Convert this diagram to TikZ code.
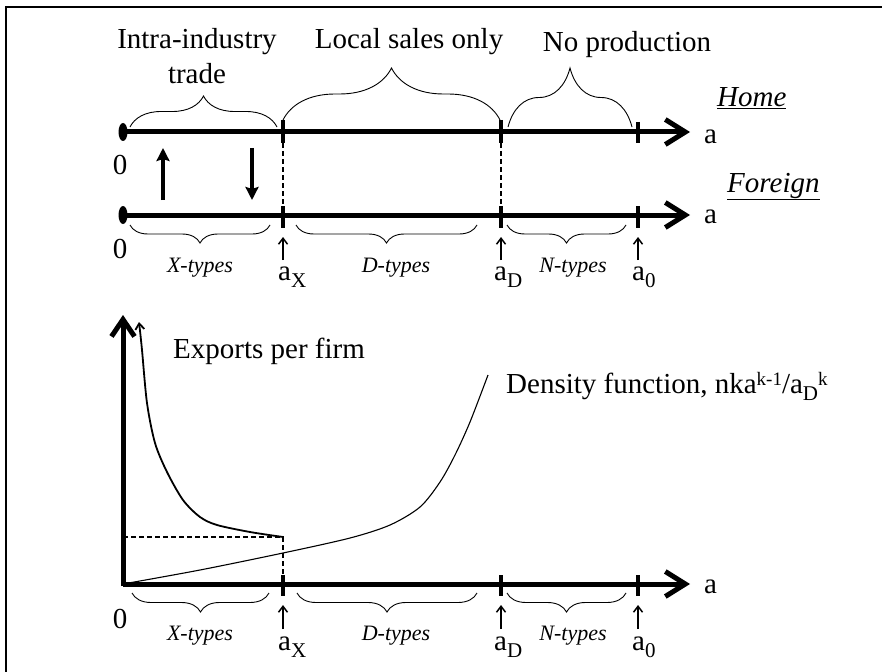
\documentclass[tikz,border=0pt]{standalone}
\usepackage{fontspec}
\setmainfont{Liberation Serif}
\usetikzlibrary{arrows.meta,decorations.pathreplacing}

\newcommand\lowsub[1]{\raisebox{-7pt}{\fontsize{21}{24}\selectfont #1}}
\newcommand\highsup[1]{\raisebox{8pt}{\fontsize{19}{22}\selectfont #1}}

\begin{document}
\begin{tikzpicture}[
        x=1pt, y=-1pt,
        declare function={
            Ox=123;
            Tip=690;
            aX=283;
            aD=501;
            aO=638;
            yH=132;
            yF=215;
            yB=584;
        },
        axisline/.style={line width=5pt, -{Straight Barb[length=20pt,width=25pt]}},
        cutmark/.style={line width=3.5pt},
        cutoff/.style={line width=1.8pt, dash pattern=on 5pt off 3pt},
        curly/.style={decorate, decoration={brace, amplitude=#1}, line width=0.9pt},
        curlydown/.style={decorate, decoration={brace, mirror, amplitude=#1}, line width=0.9pt},
        marker/.style={line width=1.5pt, -{Straight Barb[length=6pt,width=9pt]}},
        flowarrow/.style={line width=3.5pt, -{Stealth[length=13pt,width=13pt,inset=2pt]}},
        lbl/.style={font=\fontsize{29}{34}\selectfont, inner sep=0pt},
        typ/.style={font=\fontsize{22}{26}\selectfont\itshape, inner sep=0pt},
    ]
        \useasboundingbox (0,0) rectangle (882,671);
        \draw[line width=2.5pt] (6,680) -- (6,7) -- (890,7);

        % home and foreign lines
        \foreach \y in {yH,yF} {
            \draw[axisline] (Ox,\y) -- (Tip,\y);
            \fill (Ox,\y) ellipse [x radius=4.5pt, y radius=9pt];
        }
        \draw[cutmark] (aX,120) -- (aX,143);
        \draw[cutmark] (aD,120) -- (aD,143);
        \draw[cutmark] (aO,122) -- (aO,143);
        \foreach \x in {aX,aD,aO}
            \draw[cutmark] (\x,206) -- (\x,228);
        \draw[cutoff] (aX,143) -- (aX,206);
        \draw[cutoff] (aD,143) -- (aD,206);

        \draw[flowarrow] (163,200) -- (163,148);
        \draw[flowarrow] (252,148) -- (252,200);

        \draw[curly=31] (130,127) -- (277,127);
        \draw[curly=52] (283,120) -- (500,120);
        \draw[curly=59] (508,127) -- (632,127);
        \node[lbl, anchor=base] (intra) at (197,49) {Intra-industry};
        \node[lbl, anchor=base] (trade) at (197,84) {trade};
        \node[lbl, anchor=base] (local) at (409,49) {Local sales only};
        \node[lbl, anchor=base] (nopro) at (627,52) {No production};
        \node[lbl, anchor=base west] (home) at (717,107) {\underline{\textit{Home}}};
        \node[lbl, anchor=base west] (foreign) at (727,192) {\underline{\textit{Foreign}}};
        \node[lbl, anchor=base west] (aH) at (704,144) {a};
        \node[lbl, anchor=base west] (aF) at (704,223) {a};
        \node[lbl, anchor=base] (zeroH) at (120,174) {0};
        \node[lbl, anchor=base] (zeroF) at (120,258) {0};

        \draw[curlydown=18] (130,225) -- (270,225);
        \draw[curlydown=18] (296,225) -- (477,225);
        \draw[curlydown=18] (507,225) -- (626,225);
        \node[typ, anchor=base] (xtop) at (200,272) {X-types};
        \node[typ, anchor=base] (dtop) at (396,272) {D-types};
        \node[typ, anchor=base] (ntop) at (573,272) {N-types};
        \foreach \x in {aX,aD,aO}
            \draw[marker] (\x,260) -- (\x,237);
        \node[lbl, anchor=base west] (axtop) at (278,280) {a\lowsub{X}};
        \node[lbl, anchor=base west] (adtop) at (494,280) {a\lowsub{D}};
        \node[lbl, anchor=base west] (aotop) at (632,280) {a\lowsub{0}};

        % exports and density
        \draw[axisline] (Ox,yB) -- (Tip,yB);
        \draw[line width=5pt, -{Straight Barb[length=17pt,width=23pt]}] (Ox,{yB+2}) -- (Ox,315);
        \foreach \x in {aX,aD,aO}
            \draw[cutmark] (\x,575) -- (\x,596);
        \draw[cutoff] (Ox,537) -- (aX,537) -- (aX,575);
        \draw[line width=1.8pt, {Straight Barb[length=6pt,width=9pt]}-] plot[smooth] coordinates {(139,322) (142,350) (147,403) (155,443) (167,472) (183,500) (200,517) (217,525) (250,532) (283,537)};
        \draw[line width=1.1pt] plot[smooth] coordinates {(Ox,yB) (200,570) (283,553) (350,538) (390,525) (420,507) (440,482) (455,455) (470,422) (488,375)};
        \node[lbl, anchor=base west] (exports) at (173,358) {Exports per firm};
        \node[lbl, anchor=base west] (density) at (506,393) {Density function, nka\highsup{k-1}/a\lowsub{D}\highsup{k}};
        \node[lbl, anchor=base west] (aB) at (704,593) {a};
        \node[lbl, anchor=base] (zeroB) at (120,628) {0};

        \draw[curlydown=19] (132,593) -- (269,593);
        \draw[curlydown=19] (297,593) -- (477,593);
        \draw[curlydown=19] (507,593) -- (626,593);
        \node[typ, anchor=base] (xbot) at (200,640) {X-types};
        \node[typ, anchor=base] (dbot) at (396,640) {D-types};
        \node[typ, anchor=base] (nbot) at (573,640) {N-types};
        \foreach \x in {aX,aD,aO}
            \draw[marker] (\x,629) -- (\x,605);
        \node[lbl, anchor=base west] (axbot) at (278,650) {a\lowsub{X}};
        \node[lbl, anchor=base west] (adbot) at (494,650) {a\lowsub{D}};
        \node[lbl, anchor=base west] (aobot) at (632,650) {a\lowsub{0}};
    \end{tikzpicture}
\end{document}
